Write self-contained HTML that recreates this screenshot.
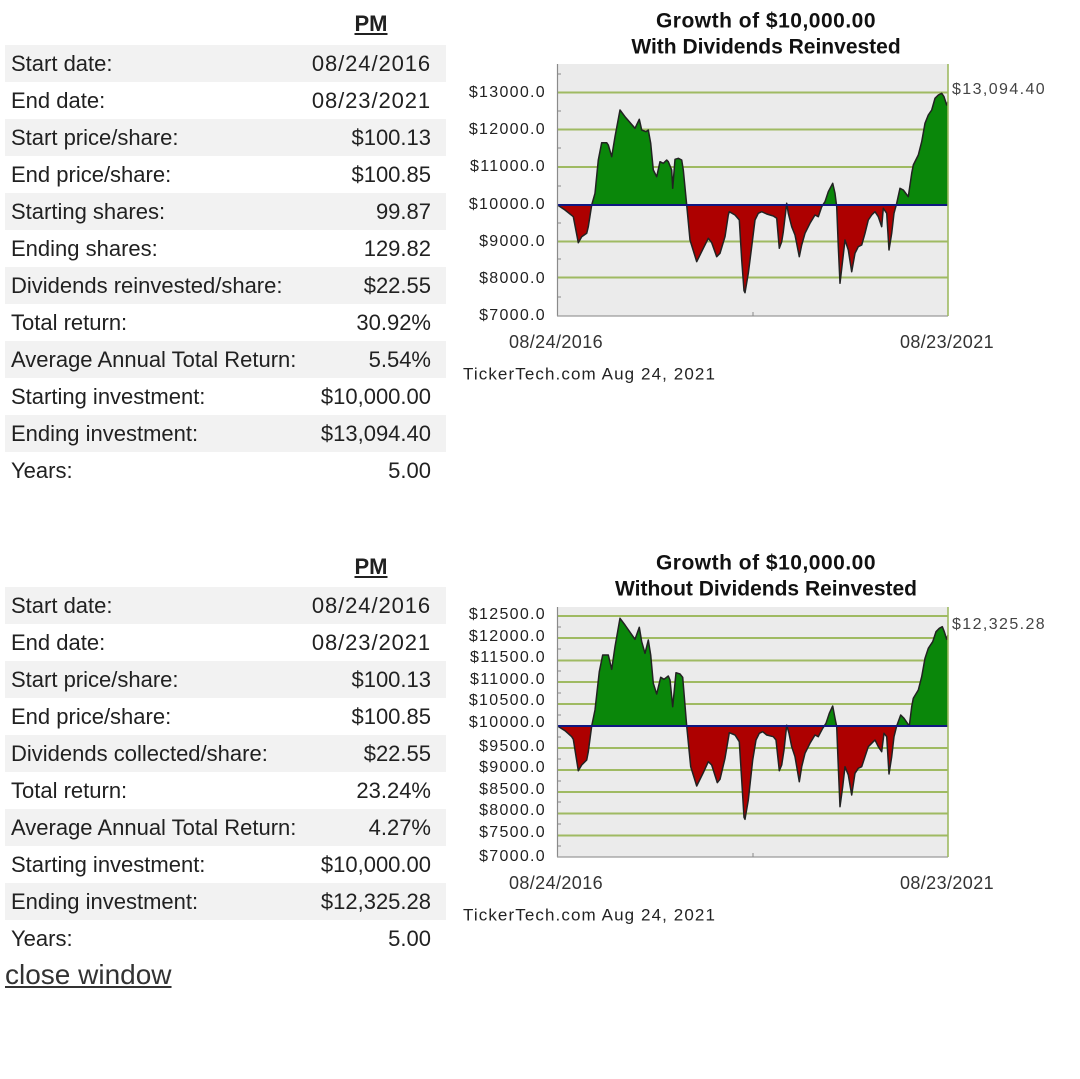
<!DOCTYPE html>
<html><head><meta charset="utf-8">
<style>
html,body{margin:0;padding:0;background:#fff;}
body{width:1080px;height:1079px;position:relative;overflow:hidden;font-family:"Liberation Sans",Arial,sans-serif;color:#212121;}
.tbl{position:absolute;left:5px;width:441px;}
.row{height:37px;line-height:37px;font-size:22px;position:relative;white-space:nowrap;}
.row.g{background:#f2f2f2;}
.row .l{position:absolute;left:6px;top:0;}
.row .v{position:absolute;right:15px;top:0;}
.row .v.d{letter-spacing:0.9px;}
.pm{position:absolute;left:321px;width:100px;text-align:center;font-weight:bold;font-size:22px;line-height:37px;text-decoration:underline;}
.close{position:absolute;left:5px;top:959px;font-size:28px;line-height:32px;color:#333;text-decoration:underline;white-space:nowrap;}
svg{position:absolute;left:0;top:0;}
</style></head><body>

<svg width="1080" height="1079" viewBox="0 0 1080 1079" xmlns="http://www.w3.org/2000/svg">
<defs>
<clipPath id="ta"><rect x="557" y="60" width="392" height="145"/></clipPath>
<clipPath id="tb"><rect x="557" y="205" width="392" height="115"/></clipPath>
<clipPath id="ba"><rect x="557" y="600" width="392" height="126"/></clipPath>
<clipPath id="bb"><rect x="557" y="726" width="392" height="135"/></clipPath>
</defs>

<!-- ===== TOP CHART ===== -->
<g font-family="Liberation Sans, Arial, sans-serif">
<text x="766" y="27.5" text-anchor="middle" font-size="21" font-weight="bold" letter-spacing="0.5" fill="#111">Growth of $10,000.00</text>
<text x="766" y="53.5" text-anchor="middle" font-size="21" font-weight="bold" fill="#111">With Dividends Reinvested</text>
</g>
<rect x="557" y="64" width="391" height="252" fill="#ebebeb"/>
<g stroke="#9fba62" stroke-width="2">
<line x1="557" y1="92.5" x2="948" y2="92.5"/>
<line x1="557" y1="129.5" x2="948" y2="129.5"/>
<line x1="557" y1="167" x2="948" y2="167"/>
<line x1="557" y1="241.5" x2="948" y2="241.5"/>
<line x1="557" y1="277.5" x2="948" y2="277.5"/>
</g>
<g id="topseries">
<polygon clip-path="url(#ta)" fill="#0a870a" points="557.5,205 565,210 573.3,216.7 578.3,242.7 581.7,236.7 586.7,233.3 588.3,226.7 591.7,205 595,193.3 598.3,160 601.7,142.7 606.7,142.7 608.3,145 611.7,156.7 615,136.7 620,110 625,116.7 635,128.3 639.3,119.3 641.7,130 646,131.7 648.3,130 650.7,143.3 653.3,170 656.7,176.7 660,161.7 663.3,163.3 666.7,160 668.3,161.7 671.7,170 672.7,188.3 675,159.3 678.3,158.3 681.7,160 683.3,170 686.7,205 690,240 696.7,261.7 703.3,248.3 708.3,238.3 711.7,242.7 716.7,256.7 720,253.3 725,236.7 728.3,215 729.3,211.7 735,215 739.3,220 741.7,260 744,290.7 745,292.7 748.3,273.3 751.7,246.7 755,220 758.3,213.3 761.7,211.7 766.7,214 773.3,216 776.7,218.3 779.3,248.3 781.7,241.7 783.3,231.7 786.7,203.3 788.3,213.3 791.7,226.7 795,235 799.3,256.7 801.7,245 805,233.3 810,223.3 815,215 818.3,216.7 821.7,206.7 825,201.7 828.3,191.7 832.7,183.3 835,193.3 836.7,206.7 838.3,246.7 840,283.3 842.7,260 845,240 848.3,250 851.7,271.7 855,253.3 858.3,246.7 861.7,245 865,233.3 868.3,220 871.7,215 875,211.7 878.3,216.7 881.7,226.7 883.3,208.3 886.7,213.3 889,250 891.7,233.3 894,213.3 896.7,203.3 900,188.3 903.3,190 908.3,196.7 911.7,173.3 913.3,165 918.3,155 921.7,141.7 925,123.3 928.3,115 931.7,110 935,98.3 938.3,95 941.7,93.3 944,96.7 946.7,105 948,101.7 948,205"/>
<polygon clip-path="url(#tb)" fill="#ad0000" points="557.5,205 565,210 573.3,216.7 578.3,242.7 581.7,236.7 586.7,233.3 588.3,226.7 591.7,205 595,193.3 598.3,160 601.7,142.7 606.7,142.7 608.3,145 611.7,156.7 615,136.7 620,110 625,116.7 635,128.3 639.3,119.3 641.7,130 646,131.7 648.3,130 650.7,143.3 653.3,170 656.7,176.7 660,161.7 663.3,163.3 666.7,160 668.3,161.7 671.7,170 672.7,188.3 675,159.3 678.3,158.3 681.7,160 683.3,170 686.7,205 690,240 696.7,261.7 703.3,248.3 708.3,238.3 711.7,242.7 716.7,256.7 720,253.3 725,236.7 728.3,215 729.3,211.7 735,215 739.3,220 741.7,260 744,290.7 745,292.7 748.3,273.3 751.7,246.7 755,220 758.3,213.3 761.7,211.7 766.7,214 773.3,216 776.7,218.3 779.3,248.3 781.7,241.7 783.3,231.7 786.7,203.3 788.3,213.3 791.7,226.7 795,235 799.3,256.7 801.7,245 805,233.3 810,223.3 815,215 818.3,216.7 821.7,206.7 825,201.7 828.3,191.7 832.7,183.3 835,193.3 836.7,206.7 838.3,246.7 840,283.3 842.7,260 845,240 848.3,250 851.7,271.7 855,253.3 858.3,246.7 861.7,245 865,233.3 868.3,220 871.7,215 875,211.7 878.3,216.7 881.7,226.7 883.3,208.3 886.7,213.3 889,250 891.7,233.3 894,213.3 896.7,203.3 900,188.3 903.3,190 908.3,196.7 911.7,173.3 913.3,165 918.3,155 921.7,141.7 925,123.3 928.3,115 931.7,110 935,98.3 938.3,95 941.7,93.3 944,96.7 946.7,105 948,101.7 948,205"/>
<polyline fill="none" stroke="#222" stroke-width="1.5" stroke-linejoin="round" points="557.5,205 565,210 573.3,216.7 578.3,242.7 581.7,236.7 586.7,233.3 588.3,226.7 591.7,205 595,193.3 598.3,160 601.7,142.7 606.7,142.7 608.3,145 611.7,156.7 615,136.7 620,110 625,116.7 635,128.3 639.3,119.3 641.7,130 646,131.7 648.3,130 650.7,143.3 653.3,170 656.7,176.7 660,161.7 663.3,163.3 666.7,160 668.3,161.7 671.7,170 672.7,188.3 675,159.3 678.3,158.3 681.7,160 683.3,170 686.7,205 690,240 696.7,261.7 703.3,248.3 708.3,238.3 711.7,242.7 716.7,256.7 720,253.3 725,236.7 728.3,215 729.3,211.7 735,215 739.3,220 741.7,260 744,290.7 745,292.7 748.3,273.3 751.7,246.7 755,220 758.3,213.3 761.7,211.7 766.7,214 773.3,216 776.7,218.3 779.3,248.3 781.7,241.7 783.3,231.7 786.7,203.3 788.3,213.3 791.7,226.7 795,235 799.3,256.7 801.7,245 805,233.3 810,223.3 815,215 818.3,216.7 821.7,206.7 825,201.7 828.3,191.7 832.7,183.3 835,193.3 836.7,206.7 838.3,246.7 840,283.3 842.7,260 845,240 848.3,250 851.7,271.7 855,253.3 858.3,246.7 861.7,245 865,233.3 868.3,220 871.7,215 875,211.7 878.3,216.7 881.7,226.7 883.3,208.3 886.7,213.3 889,250 891.7,233.3 894,213.3 896.7,203.3 900,188.3 903.3,190 908.3,196.7 911.7,173.3 913.3,165 918.3,155 921.7,141.7 925,123.3 928.3,115 931.7,110 935,98.3 938.3,95 941.7,93.3 944,96.7 946.7,105 948,101.7"/>
</g>
<line x1="557" y1="205" x2="948" y2="205" stroke="#101880" stroke-width="2"/>
<line x1="557.5" y1="64" x2="557.5" y2="316" stroke="#8a8a8a" stroke-width="1.2"/>
<line x1="557" y1="316" x2="948" y2="316" stroke="#9a9a9a" stroke-width="1.2"/>
<line x1="948" y1="64" x2="948" y2="316" stroke="#9fba62" stroke-width="1.6"/>
<g stroke="#8a8a8a" stroke-width="1">
<line x1="557" y1="74" x2="561" y2="74"/><line x1="557" y1="111" x2="561" y2="111"/><line x1="557" y1="148" x2="561" y2="148"/><line x1="557" y1="186" x2="561" y2="186"/><line x1="557" y1="223" x2="561" y2="223"/><line x1="557" y1="259" x2="561" y2="259"/><line x1="557" y1="297" x2="561" y2="297"/>
<line x1="753" y1="312" x2="753" y2="316"/>
</g>
<g font-family="Liberation Sans, Arial, sans-serif" font-size="16" letter-spacing="1.3" fill="#222" text-anchor="end">
<text x="546" y="97">$13000.0</text>
<text x="546" y="134">$12000.0</text>
<text x="546" y="171">$11000.0</text>
<text x="546" y="209">$10000.0</text>
<text x="546" y="246">$9000.0</text>
<text x="546" y="283">$8000.0</text>
<text x="546" y="320">$7000.0</text>
</g>
<g font-family="Liberation Sans, Arial, sans-serif" fill="#333">
<text x="952" y="94" font-size="16" letter-spacing="1.4" fill="#444">$13,094.40</text>
<text x="556" y="348" font-size="18" letter-spacing="0.4" text-anchor="middle">08/24/2016</text>
<text x="947" y="348" font-size="18" letter-spacing="0.4" text-anchor="middle">08/23/2021</text>
<text x="463" y="379.5" font-size="17" letter-spacing="1.1" fill="#222">TickerTech.com  Aug 24, 2021</text>
</g>

<!-- ===== BOTTOM CHART ===== -->
<g font-family="Liberation Sans, Arial, sans-serif">
<text x="766" y="569.5" text-anchor="middle" font-size="21" font-weight="bold" letter-spacing="0.5" fill="#111">Growth of $10,000.00</text>
<text x="766" y="595.5" text-anchor="middle" font-size="21" font-weight="bold" fill="#111">Without Dividends Reinvested</text>
</g>
<rect x="557" y="607" width="391" height="250" fill="#ebebeb"/>
<g stroke="#9fba62" stroke-width="2">
<line x1="557" y1="616" x2="948" y2="616"/>
<line x1="557" y1="638" x2="948" y2="638"/>
<line x1="557" y1="660.5" x2="948" y2="660.5"/>
<line x1="557" y1="682" x2="948" y2="682"/>
<line x1="557" y1="704" x2="948" y2="704"/>
<line x1="557" y1="748" x2="948" y2="748"/>
<line x1="557" y1="770" x2="948" y2="770"/>
<line x1="557" y1="792" x2="948" y2="792"/>
<line x1="557" y1="813.5" x2="948" y2="813.5"/>
<line x1="557" y1="835.5" x2="948" y2="835.5"/>
</g>
<g>
<polygon clip-path="url(#ba)" fill="#0a870a" points="557.5,726 565,730.7 571.7,736.7 573.3,739.3 578.3,770.7 581.7,765 586.7,760 588.3,751.7 591.7,726 595,710 599.3,671.7 602.7,655 608.3,655 611.7,669.3 615,646.7 620,618.3 625,625 635,639.3 639.3,627.3 641.7,641.7 645,653.3 648.3,640 650.7,655 653.3,683.3 656.7,694 660.7,677.3 664,679.3 668.3,676 670,680 672.7,706.7 676,672.7 680,674 682.7,677.3 686.7,726 690.7,766.7 696.7,786 703.3,772.7 708.3,761.7 711.7,765 717.3,782.7 720,779.3 725,758.3 729.3,732.7 735,735 739.3,741.7 741.7,780 744,817.3 745,819.3 748.3,800 752.7,760 756,740 759.3,733.3 762.7,731.7 766.7,735 773.3,736.7 776,740 779.3,770.7 781.7,765 784,750 786.7,725.3 789,733.3 791.7,746.7 795,756.7 799.3,781.7 801.7,766.7 805,753.3 810,743.3 815,735 818.3,736.7 822.7,728.3 826,723.3 829.3,713.3 832.7,706 835,718.3 836.7,726.7 838.3,766.7 840,806.7 842.7,786.7 845,766.7 848.3,775 851.7,795 855,773.3 858.3,768.3 861.7,766.7 865,756.7 868.3,746.7 871.7,743.3 875,740 878.3,746.7 881.7,751.7 884,733.3 886.7,736.7 889,774 891.7,756.7 894,736.7 896.7,726 900.7,715 904,718.3 909.3,726 911.7,706.7 913.3,698.3 918.3,690 921.7,676.7 925,658.3 928.3,648.3 932.7,641.7 936,631.7 939.3,628.3 942.3,626.7 944.3,631.7 946.7,639.3 948,635 948,726"/>
<polygon clip-path="url(#bb)" fill="#ad0000" points="557.5,726 565,730.7 571.7,736.7 573.3,739.3 578.3,770.7 581.7,765 586.7,760 588.3,751.7 591.7,726 595,710 599.3,671.7 602.7,655 608.3,655 611.7,669.3 615,646.7 620,618.3 625,625 635,639.3 639.3,627.3 641.7,641.7 645,653.3 648.3,640 650.7,655 653.3,683.3 656.7,694 660.7,677.3 664,679.3 668.3,676 670,680 672.7,706.7 676,672.7 680,674 682.7,677.3 686.7,726 690.7,766.7 696.7,786 703.3,772.7 708.3,761.7 711.7,765 717.3,782.7 720,779.3 725,758.3 729.3,732.7 735,735 739.3,741.7 741.7,780 744,817.3 745,819.3 748.3,800 752.7,760 756,740 759.3,733.3 762.7,731.7 766.7,735 773.3,736.7 776,740 779.3,770.7 781.7,765 784,750 786.7,725.3 789,733.3 791.7,746.7 795,756.7 799.3,781.7 801.7,766.7 805,753.3 810,743.3 815,735 818.3,736.7 822.7,728.3 826,723.3 829.3,713.3 832.7,706 835,718.3 836.7,726.7 838.3,766.7 840,806.7 842.7,786.7 845,766.7 848.3,775 851.7,795 855,773.3 858.3,768.3 861.7,766.7 865,756.7 868.3,746.7 871.7,743.3 875,740 878.3,746.7 881.7,751.7 884,733.3 886.7,736.7 889,774 891.7,756.7 894,736.7 896.7,726 900.7,715 904,718.3 909.3,726 911.7,706.7 913.3,698.3 918.3,690 921.7,676.7 925,658.3 928.3,648.3 932.7,641.7 936,631.7 939.3,628.3 942.3,626.7 944.3,631.7 946.7,639.3 948,635 948,726"/>
<polyline fill="none" stroke="#222" stroke-width="1.5" stroke-linejoin="round" points="557.5,726 565,730.7 571.7,736.7 573.3,739.3 578.3,770.7 581.7,765 586.7,760 588.3,751.7 591.7,726 595,710 599.3,671.7 602.7,655 608.3,655 611.7,669.3 615,646.7 620,618.3 625,625 635,639.3 639.3,627.3 641.7,641.7 645,653.3 648.3,640 650.7,655 653.3,683.3 656.7,694 660.7,677.3 664,679.3 668.3,676 670,680 672.7,706.7 676,672.7 680,674 682.7,677.3 686.7,726 690.7,766.7 696.7,786 703.3,772.7 708.3,761.7 711.7,765 717.3,782.7 720,779.3 725,758.3 729.3,732.7 735,735 739.3,741.7 741.7,780 744,817.3 745,819.3 748.3,800 752.7,760 756,740 759.3,733.3 762.7,731.7 766.7,735 773.3,736.7 776,740 779.3,770.7 781.7,765 784,750 786.7,725.3 789,733.3 791.7,746.7 795,756.7 799.3,781.7 801.7,766.7 805,753.3 810,743.3 815,735 818.3,736.7 822.7,728.3 826,723.3 829.3,713.3 832.7,706 835,718.3 836.7,726.7 838.3,766.7 840,806.7 842.7,786.7 845,766.7 848.3,775 851.7,795 855,773.3 858.3,768.3 861.7,766.7 865,756.7 868.3,746.7 871.7,743.3 875,740 878.3,746.7 881.7,751.7 884,733.3 886.7,736.7 889,774 891.7,756.7 894,736.7 896.7,726 900.7,715 904,718.3 909.3,726 911.7,706.7 913.3,698.3 918.3,690 921.7,676.7 925,658.3 928.3,648.3 932.7,641.7 936,631.7 939.3,628.3 942.3,626.7 944.3,631.7 946.7,639.3 948,635"/>
</g>
<line x1="557" y1="726" x2="948" y2="726" stroke="#101880" stroke-width="2"/>
<line x1="557.5" y1="607" x2="557.5" y2="857" stroke="#8a8a8a" stroke-width="1.2"/>
<line x1="557" y1="857" x2="948" y2="857" stroke="#9a9a9a" stroke-width="1.2"/>
<line x1="948" y1="607" x2="948" y2="857" stroke="#9fba62" stroke-width="1.6"/>
<g stroke="#8a8a8a" stroke-width="1">
<line x1="557" y1="627" x2="561" y2="627"/><line x1="557" y1="649" x2="561" y2="649"/><line x1="557" y1="671" x2="561" y2="671"/><line x1="557" y1="693" x2="561" y2="693"/><line x1="557" y1="715" x2="561" y2="715"/><line x1="557" y1="737" x2="561" y2="737"/><line x1="557" y1="759" x2="561" y2="759"/><line x1="557" y1="781" x2="561" y2="781"/><line x1="557" y1="802" x2="561" y2="802"/><line x1="557" y1="824" x2="561" y2="824"/><line x1="557" y1="846" x2="561" y2="846"/>
<line x1="753" y1="853" x2="753" y2="857"/>
</g>
<g font-family="Liberation Sans, Arial, sans-serif" font-size="16" letter-spacing="1.3" fill="#222" text-anchor="end">
<text x="546" y="619">$12500.0</text>
<text x="546" y="641">$12000.0</text>
<text x="546" y="662">$11500.0</text>
<text x="546" y="684">$11000.0</text>
<text x="546" y="705">$10500.0</text>
<text x="546" y="727">$10000.0</text>
<text x="546" y="751">$9500.0</text>
<text x="546" y="772">$9000.0</text>
<text x="546" y="794">$8500.0</text>
<text x="546" y="815">$8000.0</text>
<text x="546" y="837">$7500.0</text>
<text x="546" y="861">$7000.0</text>
</g>
<g font-family="Liberation Sans, Arial, sans-serif" fill="#333">
<text x="952" y="629" font-size="16" letter-spacing="1.4" fill="#444">$12,325.28</text>
<text x="556" y="889" font-size="18" letter-spacing="0.4" text-anchor="middle">08/24/2016</text>
<text x="947" y="889" font-size="18" letter-spacing="0.4" text-anchor="middle">08/23/2021</text>
<text x="463" y="920.5" font-size="17" letter-spacing="1.1" fill="#222">TickerTech.com  Aug 24, 2021</text>
</g>
</svg>

<!-- ===== TOP TABLE ===== -->
<div class="pm" style="top:4.5px;">PM</div>
<div class="tbl" style="top:45px;">
<div class="row g"><span class="l">Start date:</span><span class="v d">08/24/2016</span></div>
<div class="row"><span class="l">End date:</span><span class="v d">08/23/2021</span></div>
<div class="row g"><span class="l">Start price/share:</span><span class="v">$100.13</span></div>
<div class="row"><span class="l">End price/share:</span><span class="v">$100.85</span></div>
<div class="row g"><span class="l">Starting shares:</span><span class="v">99.87</span></div>
<div class="row"><span class="l">Ending shares:</span><span class="v">129.82</span></div>
<div class="row g"><span class="l">Dividends reinvested/share:</span><span class="v">$22.55</span></div>
<div class="row"><span class="l">Total return:</span><span class="v">30.92%</span></div>
<div class="row g"><span class="l">Average Annual Total Return:</span><span class="v">5.54%</span></div>
<div class="row"><span class="l">Starting investment:</span><span class="v">$10,000.00</span></div>
<div class="row g"><span class="l">Ending investment:</span><span class="v">$13,094.40</span></div>
<div class="row"><span class="l">Years:</span><span class="v">5.00</span></div>
</div>

<!-- ===== BOTTOM TABLE ===== -->
<div class="pm" style="top:547.5px;">PM</div>
<div class="tbl" style="top:587px;">
<div class="row g"><span class="l">Start date:</span><span class="v d">08/24/2016</span></div>
<div class="row"><span class="l">End date:</span><span class="v d">08/23/2021</span></div>
<div class="row g"><span class="l">Start price/share:</span><span class="v">$100.13</span></div>
<div class="row"><span class="l">End price/share:</span><span class="v">$100.85</span></div>
<div class="row g"><span class="l">Dividends collected/share:</span><span class="v">$22.55</span></div>
<div class="row"><span class="l">Total return:</span><span class="v">23.24%</span></div>
<div class="row g"><span class="l">Average Annual Total Return:</span><span class="v">4.27%</span></div>
<div class="row"><span class="l">Starting investment:</span><span class="v">$10,000.00</span></div>
<div class="row g"><span class="l">Ending investment:</span><span class="v">$12,325.28</span></div>
<div class="row"><span class="l">Years:</span><span class="v">5.00</span></div>
</div>

<div class="close">close window</div>
</body></html>
